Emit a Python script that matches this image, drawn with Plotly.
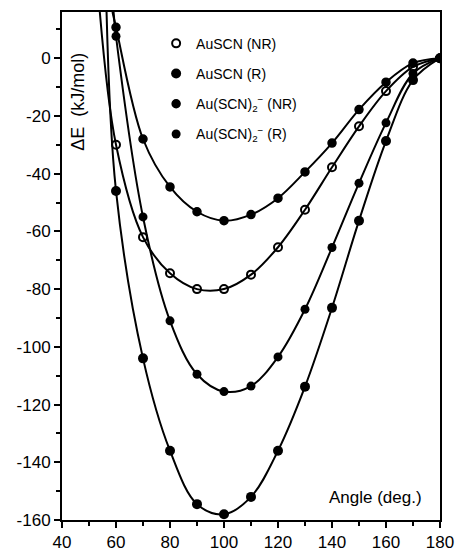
import plotly.graph_objects as go

angles = [60, 70, 80, 90, 100, 110, 120, 130, 140, 150, 160, 170, 180]

ausc_nr = [-30, -62, -74.5, -80, -80, -75, -65.5, -52.5, -37.8, -23.6, -11.4, -3, 0]
ausc_r = [-46, -104, -136, -154.5, -158, -152, -136, -113.8, -86.5, -56.3, -28.7, -7.6, 0]
au2_nr = [10.7, -28, -44.6, -53.2, -56.3, -54.2, -48.5, -39.4, -29.4, -17.8, -8.3, -1.7, 0]
au2_r = [7.6, -55, -91, -109.5, -115.5, -113.6, -103.5, -87, -65.6, -43.3, -22.4, -5.3, 0]

# where each fitted curve leaves the top of the frame
top_exit_angle = {"a": 54.0, "b": 56.5, "c": 58.7, "d": 59.1}
top_exit_value = 16

names = ["AuSCN (NR)", "AuSCN (R)",
         "Au(SCN)<sub>2</sub><sup>−</sup> (NR)", "Au(SCN)<sub>2</sub><sup>−</sup> (R)"]

x_ticks = [40, 60, 80, 100, 120, 140, 160, 180]
y_ticks = [0, -20, -40, -60, -80, -100, -120, -140, -160]

fig = go.Figure()

series = [("a", ausc_nr), ("b", ausc_r), ("c", au2_nr), ("d", au2_r)]
for key, vals in series:
    fig.add_trace(go.Scatter(
        x=[top_exit_angle[key]] + angles, y=[top_exit_value] + vals,
        mode="lines", line=dict(color="black", width=2, shape="spline", smoothing=1.0),
        showlegend=False, hoverinfo="skip"))

marker_styles = [
    dict(symbol="circle-open", size=8, color="black", line=dict(width=2, color="black")),
    dict(symbol="circle", size=10, color="black"),
    dict(symbol="circle-dot", size=8, color="black", line=dict(width=1.5, color="black")),
    dict(symbol="circle", size=9, color="black"),
]
for (key, vals), nm, ms in zip(series, names, marker_styles):
    fig.add_trace(go.Scatter(
        x=angles, y=vals, mode="markers", marker=ms, name=nm,
        legendgroup=key))

fig.update_layout(
    width=457, height=552,
    margin=dict(l=62, r=17, t=12, b=32, autoexpand=False),
    paper_bgcolor="white", plot_bgcolor="white",
    font=dict(family="Liberation Sans, Arial, sans-serif", size=13, color="black"),
    legend=dict(x=0.249, y=0.969, xanchor="left", yanchor="top",
                bgcolor="rgba(0,0,0,0)", font=dict(size=14),
                tracegroupgap=9, itemwidth=30),
    xaxis=dict(range=[40, 180], showgrid=False, zeroline=False,
               showline=True, linecolor="black", linewidth=2, mirror=True,
               ticks="outside", ticklen=6, tickwidth=2, tickcolor="black",
               tickvals=x_ticks, ticktext=[str(v) for v in x_ticks],
               minor=dict(dtick=10, ticks="outside", ticklen=4, tickwidth=2, tickcolor="black"),
               tickfont=dict(size=17)),
    yaxis=dict(range=[-160, 16], showgrid=False, zeroline=False,
               showline=True, linecolor="black", linewidth=2, mirror=True,
               ticks="outside", ticklen=6, tickwidth=2, tickcolor="black",
               tickvals=y_ticks, ticktext=[str(v) for v in y_ticks],
               minor=dict(dtick=10, ticks="outside", ticklen=4, tickwidth=2, tickcolor="black"),
               tickfont=dict(size=17)),
    annotations=[
        dict(text="ΔE  (kJ/mol)", xref="paper", yref="paper", x=0.042, y=0.823,
             xanchor="center", yanchor="middle",
             textangle=-90, showarrow=False, font=dict(size=18)),
        dict(text="Angle (deg.)", xref="paper", yref="paper", x=0.83, y=0.045,
             xanchor="center", yanchor="middle",
             showarrow=False, font=dict(size=17)),
    ],
)

fig.write_html(
    "out.html",
    config={"displayModeBar": False},
    post_script="document.body.style.margin='0';document.body.style.overflow='hidden';",
)
